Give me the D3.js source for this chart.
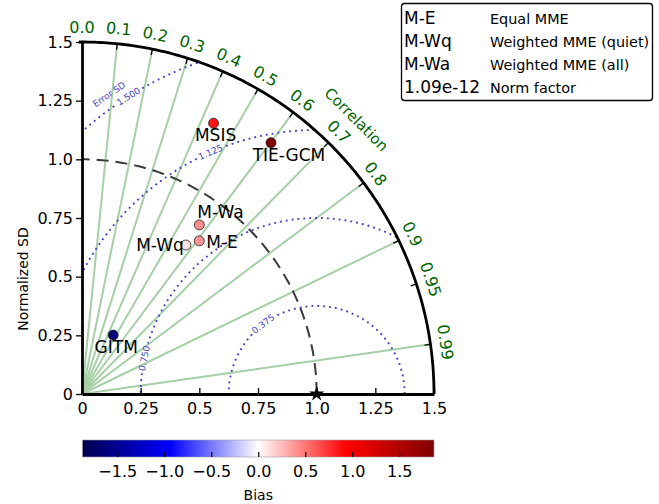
<!DOCTYPE html>
<html>
<head>
<meta charset="utf-8">
<script src="https://cdn.jsdelivr.net/npm/d3@7"></script>
<style>
  html, body { margin: 0; padding: 0; background: #fff; }
  svg { display: block; font-family: "DejaVu Sans", sans-serif; }
</style>
</head>
<body>
<svg id="chart" width="659" height="504"></svg>
<script>
// ---------------- data ----------------
const models   = ["MSIS", "TIE-GCM", "GITM", "M-E", "M-Wq", "M-Wa"];
const stdNorm  = [1.283, 1.340, 0.284, 0.822, 0.774, 0.877];
const corrVals = [0.437, 0.601, 0.468, 0.608, 0.572, 0.570];
const biasVals = [0.87, 1.87, -1.65, 0.40, 0.11, 0.42];

const sdTicks      = [0, 0.25, 0.5, 0.75, 1.0, 1.25, 1.5];
const sdTickLabels = ["0", "0.25", "0.5", "0.75", "1.0", "1.25", "1.5"];
const corrTicks      = [0.0, 0.1, 0.2, 0.3, 0.4, 0.5, 0.6, 0.7, 0.8, 0.9, 0.95, 0.99];
const corrTickLabels = ["0.0","0.1","0.2","0.3","0.4","0.5","0.6","0.7","0.8","0.9","0.95","0.99"];
const corrGrid = [0.1, 0.2, 0.3, 0.4, 0.5, 0.6, 0.7, 0.8, 0.9, 0.99];
const rmsLevels = [0.375, 0.75, 1.125, 1.5];
const rmsLabels = ["0.375", "0.750", "1.125", "1.500"];
const refStd = 1.0;
const sdMax = 1.5;

const biasTicks = [-1.5, -1.0, -0.5, 0.0, 0.5, 1.0, 1.5];
const biasTickLabels = ["\u22121.5", "\u22121.0", "\u22120.5", "0.0", "0.5", "1.0", "1.5"];

const legendKeys = ["M-E", "M-Wq", "M-Wa", "1.09e-12"];
const legendDesc = ["Equal MME", "Weighted MME (quiet)", "Weighted MME (all)", "Norm factor"];

// ---------------- layout config ----------------
const rmsLabelAngle = [127.4, 168.3, 113.7, 122.3];   // degrees around (refStd, 0)
const labelLayout = {               // dx, dy, anchor
  "MSIS":    [2, 18, "middle"],
  "TIE-GCM": [18, 18, "middle"],
  "GITM":    [3, 18, "middle"],
  "M-E":     [7, 7, "start"],
  "M-Wq":    [-2, 6, "end"],
  "M-Wa":    [-2, -7, "start"]
};

const svg = d3.select("#chart");
const x = d3.scaleLinear().domain([0, sdMax]).range([82, 434]);
const y = d3.scaleLinear().domain([0, sdMax]).range([394, 42]);
const px = (r, c) => x(r * c);
const py = (r, c) => y(r * Math.sqrt(Math.max(0, 1 - c * c)));

const green = "#006400";
const blue = "#4444c4";

// seismic colormap
const vmax = d3.max(biasVals, d => Math.abs(d));
const seismic = ["#00004d", "#0000ff", "#ffffff", "#ff0000", "#800000"];
const color = d3.scaleLinear()
  .domain([-vmax, -vmax / 2, 0, vmax / 2, vmax])
  .range(seismic).interpolate(d3.interpolateRgb).clamp(true);

// ---------------- correlation grid lines ----------------
svg.append("g").selectAll("line").data(corrGrid).join("line")
  .attr("x1", x(0)).attr("y1", y(0))
  .attr("x2", c => px(sdMax, c)).attr("y2", c => py(sdMax, c))
  .attr("stroke", "#a6cfa6").attr("stroke-width", 2);

// ---------------- RMS contours ----------------
const rmsG = svg.append("g");
rmsLevels.forEach((lev, i) => {
  const labAng = rmsLabelAngle[i] * Math.PI / 180;
  const gapPx = 30;
  const gapAng = gapPx / (lev * (x(1) - x(0))) / 2;
  const pts = [];
  const N = 400;
  for (let k = 0; k <= N; k++) {
    const a = Math.PI * k / N;
    const xx = refStd + lev * Math.cos(a), yy = lev * Math.sin(a);
    const inside = xx >= 0 && yy >= 0 && (xx * xx + yy * yy) <= sdMax * sdMax;
    const inGap = Math.abs(a - labAng) < gapAng;
    pts.push({xx, yy, ok: inside && !inGap});
  }
  const line = d3.line().defined(d => d.ok).x(d => x(d.xx)).y(d => y(d.yy));
  rmsG.append("path").attr("d", line(pts))
    .attr("fill", "none").attr("stroke", blue).attr("stroke-width", 1.9)
    .attr("stroke-dasharray", "1.9,4");
  const lx = refStd + lev * Math.cos(labAng), ly = lev * Math.sin(labAng);
  const rot = -(rmsLabelAngle[i] - 90);
  rmsG.append("text")
    .attr("transform", `translate(${x(lx)},${y(ly)}) rotate(${rot})`)
    .attr("text-anchor", "middle").attr("dominant-baseline", "central")
    .attr("font-size", 9).attr("fill", blue).text(rmsLabels[i]);
  if (i === 3) {
    const eDeg = rmsLabelAngle[i] + 2.4;
    const ea = eDeg * Math.PI / 180;
    const er = lev + 0.053;
    const ex = refStd + er * Math.cos(ea), ey = er * Math.sin(ea);
    rmsG.append("text")
      .attr("transform", `translate(${x(ex)},${y(ey)}) rotate(${-(eDeg - 90)})`)
      .attr("text-anchor", "middle").attr("dominant-baseline", "central")
      .attr("font-size", 9).attr("fill", blue).text("Error SD");
  }
});

// ---------------- reference dashed arc ----------------
const refPts = d3.range(0, 91, 1).map(d => d * Math.PI / 180);
svg.append("path")
  .attr("d", d3.line().x(a => x(refStd * Math.cos(a))).y(a => y(refStd * Math.sin(a)))(refPts))
  .attr("fill", "none").attr("stroke", "#3a3a3a").attr("stroke-width", 2)
  .attr("stroke-dasharray", "12,7");

// ---------------- axes ----------------
const yAxis = d3.axisLeft(y).tickValues(sdTicks)
  .tickFormat((d, i) => sdTickLabels[i]).tickSizeInner(6).tickSizeOuter(0).tickPadding(3);
const gy = svg.append("g").attr("transform", `translate(${x(0)},0)`).call(yAxis);
const xAxis = d3.axisBottom(x).tickValues(sdTicks)
  .tickFormat((d, i) => sdTickLabels[i]).tickSizeInner(-6).tickSizeOuter(0).tickPadding(9);
const gx = svg.append("g").attr("transform", `translate(0,${y(0)})`).call(xAxis);
[gx, gy].forEach(g => {
  g.select(".domain").attr("stroke", "#000").attr("stroke-width", 2.8);
  g.selectAll(".tick line").attr("stroke", "#000").attr("stroke-width", 1.3);
  g.selectAll(".tick text").attr("font-size", 16).attr("fill", "#000")
    .attr("font-family", "DejaVu Sans");
});
gx.selectAll(".tick text").attr("dy", "0.71em");

// outer arc
const outPts = d3.range(0, 91, 0.5).map(d => d * Math.PI / 180);
svg.append("path")
  .attr("d", d3.line().x(a => x(sdMax * Math.cos(a))).y(a => y(sdMax * Math.sin(a)))(outPts))
  .attr("fill", "none").attr("stroke", "#000").attr("stroke-width", 2.8);

// correlation ticks + labels
const R = x(sdMax) - x(0);
const cg = svg.append("g");
corrTicks.forEach((c, i) => {
  const s = Math.sqrt(1 - c * c);
  if (c > 0) {
    cg.append("line")
      .attr("x1", px(sdMax, c)).attr("y1", py(sdMax, c))
      .attr("x2", x(0) + (R - 6) * c).attr("y2", y(0) - (R - 6) * s)
      .attr("stroke", "#000").attr("stroke-width", 1.3);
  }
  const lr = R + 15;
  const theta = Math.acos(c) * 180 / Math.PI;
  cg.append("text")
    .attr("transform", `translate(${x(0) + lr * c},${y(0) - lr * s}) rotate(${90 - theta})`)
    .attr("text-anchor", "middle").attr("dominant-baseline", "central")
    .attr("font-size", 16).attr("fill", green).text(corrTickLabels[i]);
});
{
  const c = Math.SQRT1_2, lr = R + 36;
  cg.append("text")
    .attr("transform", `translate(${x(0) + lr * c},${y(0) - lr * c}) rotate(45)`)
    .attr("text-anchor", "middle").attr("dominant-baseline", "central")
    .attr("font-size", 15).attr("fill", green).text("Correlation");
}

// reference star
svg.append("path")
  .attr("d", d3.symbol().type(d3.symbolStar).size(70)())
  .attr("transform", `translate(${x(refStd)},${y(0)})`)
  .attr("fill", "#000");

// y axis label
svg.append("text")
  .attr("transform", "translate(23,279) rotate(-90)")
  .attr("text-anchor", "middle").attr("dominant-baseline", "central")
  .attr("font-size", 14).attr("fill", "#000").text("Normalized SD");

// ---------------- model points ----------------
const pts = models.map((m, i) => ({m, r: stdNorm[i], c: corrVals[i], b: biasVals[i]}));
const pg = svg.append("g");
pg.selectAll("circle").data(pts).join("circle")
  .attr("cx", d => px(d.r, d.c)).attr("cy", d => py(d.r, d.c)).attr("r", 5)
  .attr("fill", d => color(d.b)).attr("stroke", "#222").attr("stroke-width", 0.8);
pg.selectAll("text").data(pts).join("text")
  .attr("x", d => px(d.r, d.c) + labelLayout[d.m][0])
  .attr("y", d => py(d.r, d.c) + labelLayout[d.m][1])
  .attr("text-anchor", d => labelLayout[d.m][2])
  .attr("font-size", 17).attr("fill", "#000").text(d => d.m);

// ---------------- legend box ----------------
const lg = svg.append("g");
lg.append("rect").attr("x", 401.5).attr("y", 3.5).attr("width", 251).attr("height", 97)
  .attr("rx", 3).attr("fill", "#fff").attr("stroke", "#000").attr("stroke-width", 1.3);
legendKeys.forEach((k, i) => {
  lg.append("text").attr("x", 404).attr("y", 24 + i * 23)
    .attr("font-size", 17).attr("fill", "#000").text(k);
  lg.append("text").attr("x", 490).attr("y", 24 + i * 23)
    .attr("font-size", 14.4).attr("fill", "#000").text(legendDesc[i]);
});

// ---------------- colorbar ----------------
const cbX = d3.scaleLinear().domain([-vmax, vmax]).range([82.5, 434]);
const defs = svg.append("defs");
const grad = defs.append("linearGradient").attr("id", "seis");
d3.range(0, 1.0001, 0.05).forEach(t => {
  grad.append("stop").attr("offset", t).attr("stop-color", color(-vmax + 2 * vmax * t));
});
const cbTop = 440, cbH = 17;
svg.append("rect").attr("x", cbX(-vmax)).attr("y", cbTop)
  .attr("width", cbX(vmax) - cbX(-vmax)).attr("height", cbH)
  .attr("fill", "url(#seis)").attr("stroke", "#999").attr("stroke-width", 0.6);
const cbAxis = d3.axisBottom(cbX).tickValues(biasTicks)
  .tickFormat((d, i) => biasTickLabels[i]).tickSizeInner(-5).tickSizeOuter(0).tickPadding(9);
const gcb = svg.append("g").attr("transform", `translate(0,${cbTop + cbH})`).call(cbAxis);
gcb.select(".domain").remove();
gcb.selectAll(".tick line").attr("stroke", "#000").attr("stroke-width", 1.2);
gcb.selectAll(".tick text").attr("font-size", 16).attr("fill", "#000")
  .attr("font-family", "DejaVu Sans").attr("dy", "0.71em");
svg.append("text").attr("x", cbX(0)).attr("y", 500)
  .attr("text-anchor", "middle").attr("font-size", 14).attr("fill", "#000").text("Bias");
</script>
</body>
</html>
